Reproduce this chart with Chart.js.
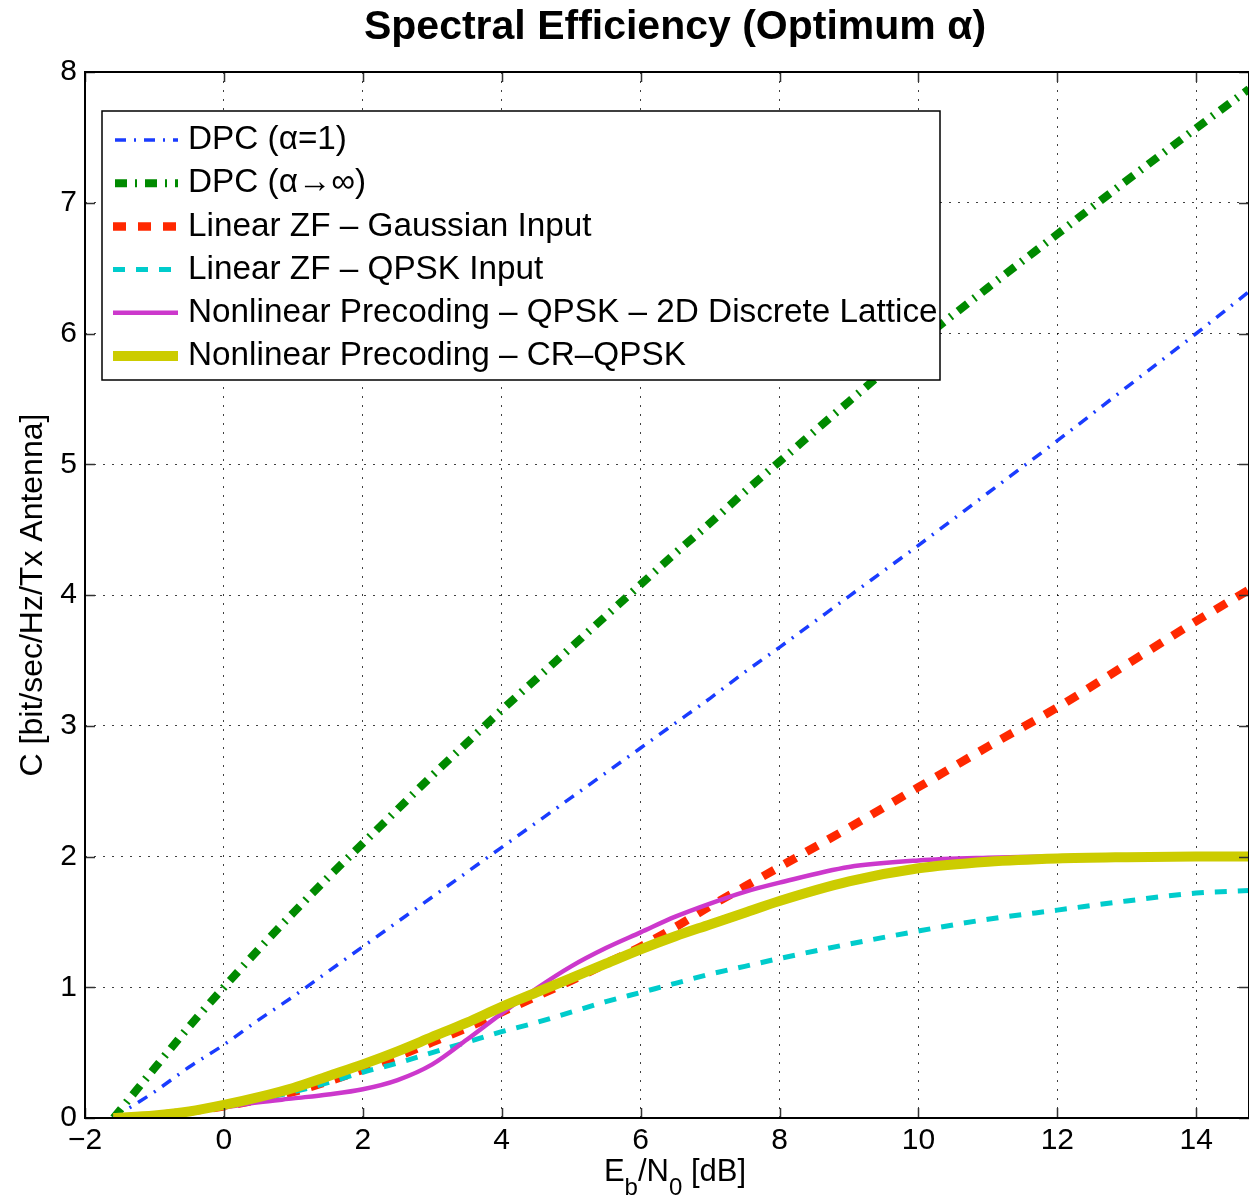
<!DOCTYPE html>
<html>
<head>
<meta charset="utf-8">
<script src="https://cdn.jsdelivr.net/npm/chart.js@4.4.1/dist/chart.umd.min.js"></script>
<style>
html,body{margin:0;padding:0;background:#fff;}
#wrap{width:1249px;height:1201px;position:relative;}
</style>
</head>
<body>
<div id="wrap"><canvas id="c" width="1249" height="1201"></canvas></div>
<script>
// ---- data ----
const ebn0 = [-1.59, -1, -0.5, 0, 0.5, 1, 1.5, 2, 2.5, 3, 3.5, 4, 4.5, 5, 5.5, 6, 6.5, 7, 7.5, 8, 9, 10, 11, 12, 13, 14, 14.76];
const dpcAlpha1 = [0, 0.20, 0.39, 0.56, 0.75, 0.93, 1.12, 1.31, 1.50, 1.69, 1.88, 2.07, 2.26, 2.45, 2.64, 2.83, 3.02, 3.21, 3.41, 3.60, 3.99, 4.38, 4.78, 5.18, 5.59, 6.00, 6.32];
const dpcAlphaInf = [0, 0.38, 0.70, 1.00, 1.29, 1.57, 1.84, 2.10, 2.36, 2.62, 2.87, 3.12, 3.36, 3.60, 3.84, 4.08, 4.32, 4.55, 4.79, 5.02, 5.48, 5.93, 6.35, 6.76, 7.17, 7.57, 7.87];
const zfGaussian = [0, 0.02, 0.05, 0.09, 0.14, 0.20, 0.28, 0.37, 0.47, 0.58, 0.69, 0.81, 0.93, 1.05, 1.18, 1.31, 1.46, 1.62, 1.77, 1.92, 2.22, 2.53, 2.84, 3.14, 3.47, 3.80, 4.04];
const zfQpsk = [0, 0.02, 0.05, 0.09, 0.14, 0.20, 0.27, 0.35, 0.42, 0.50, 0.58, 0.66, 0.73, 0.81, 0.89, 0.96, 1.03, 1.10, 1.16, 1.22, 1.33, 1.43, 1.52, 1.59, 1.66, 1.72, 1.74];
const nlpLattice = [0, 0.015, 0.04, 0.08, 0.12, 0.15, 0.18, 0.22, 0.29, 0.41, 0.60, 0.80, 0.99, 1.16, 1.30, 1.42, 1.54, 1.64, 1.73, 1.80, 1.92, 1.97, 1.99, 2.00, 2.00, 2.00, 2.00];
const nlpCrQpsk = [0, 0.02, 0.05, 0.10, 0.16, 0.23, 0.32, 0.41, 0.51, 0.62, 0.73, 0.85, 0.96, 1.07, 1.18, 1.29, 1.39, 1.48, 1.57, 1.66, 1.81, 1.91, 1.96, 1.985, 1.995, 2.00, 2.00];
const seriesLabels = ['DPC (\u03B1=1)', 'DPC (\u03B1\u2192\u221E)', 'Linear ZF \u2013 Gaussian Input', 'Linear ZF \u2013 QPSK Input', 'Nonlinear Precoding \u2013 QPSK \u2013 2D Discrete Lattice', 'Nonlinear Precoding \u2013 CR\u2013QPSK'];
const xTicks = [-2, 0, 2, 4, 6, 8, 10, 12, 14];
const yTicks = [0, 1, 2, 3, 4, 5, 6, 7, 8];
const titleText = 'Spectral Efficiency (Optimum \u03B1)';
const yTitle = 'C [bit/sec/Hz/Tx Antenna]';

const FONT = '"Liberation Sans", Arial, Helvetica, sans-serif';
Chart.defaults.font.family = FONT;

const styles = [
  {color: '#1a3cff', width: 3.5, dash: [11, 8, 2, 8], legendOffset: 27},
  {color: '#008a00', width: 8, dash: [12, 8, 2, 8], legendOffset: 28},
  {color: '#ff2800', width: 8.5, dash: [13, 12], legendOffset: 0},
  {color: '#00cccc', width: 5, dash: [12, 11], legendOffset: 0},
  {color: '#cc38cc', width: 4.5, dash: [], legendOffset: 0},
  {color: '#cccc00', width: 10, dash: [], legendOffset: 0}
];
const seriesValues = [dpcAlpha1, dpcAlphaInf, zfGaussian, zfQpsk, nlpLattice, nlpCrQpsk];

const datasets = seriesValues.map((vals, i) => ({
  label: seriesLabels[i],
  data: ebn0.map((x, k) => ({x: x, y: vals[k]})),
  borderColor: styles[i].color,
  backgroundColor: styles[i].color,
  borderWidth: styles[i].width,
  borderDash: styles[i].dash,
  borderCapStyle: 'butt',
  fill: false,
  pointRadius: 0,
  cubicInterpolationMode: 'monotone',
  clip: 0,
  order: seriesValues.length - i
}));

const decorPlugin = {
  id: 'decor',
  afterDatasetsDraw(chart) {
    const {ctx, chartArea: a, scales} = chart;
    ctx.save();
    ctx.strokeStyle = '#333';
    ctx.lineWidth = 1.5;
    ctx.beginPath();
    xTicks.forEach(v => {
      const px = Math.round(scales.x.getPixelForValue(v)) + 0.5;
      ctx.moveTo(px, a.bottom); ctx.lineTo(px, a.bottom - 10);
      ctx.moveTo(px, a.top); ctx.lineTo(px, a.top + 10);
    });
    yTicks.forEach(v => {
      const py = Math.round(scales.y.getPixelForValue(v)) + 0.5;
      ctx.moveTo(a.left, py); ctx.lineTo(a.left + 10, py);
      ctx.moveTo(a.right, py); ctx.lineTo(a.right - 10, py);
    });
    ctx.stroke();
    ctx.strokeStyle = '#000';
    ctx.lineWidth = 2;
    ctx.strokeRect(a.left, a.top, a.right - a.left, a.bottom - a.top);
    ctx.restore();
  },
  afterDraw(chart) {
    const {ctx, chartArea: a} = chart;
    ctx.save();
    ctx.fillStyle = '#000';
    ctx.font = 'bold 41px ' + FONT;
    ctx.textAlign = 'center';
    ctx.textBaseline = 'middle';
    ctx.fillText(titleText, 675, 28);
    ctx.save();
    ctx.translate(33, (a.top + a.bottom) / 2);
    ctx.rotate(-Math.PI / 2);
    ctx.font = '32px ' + FONT;
    ctx.textAlign = 'center';
    ctx.textBaseline = 'middle';
    ctx.fillText(yTitle, 0, 0);
    ctx.restore();
    const parts = [
      {t: 'E', s: 31, dy: 0},
      {t: 'b', s: 24, dy: 14},
      {t: '/N', s: 31, dy: 0},
      {t: '0', s: 24, dy: 14},
      {t: ' [dB]', s: 31, dy: 0}
    ];
    let total = 0;
    parts.forEach(p => { ctx.font = p.s + 'px ' + FONT; p.w = ctx.measureText(p.t).width; total += p.w; });
    let xx = 675 - total / 2;
    ctx.textAlign = 'left';
    ctx.textBaseline = 'alphabetic';
    parts.forEach(p => { ctx.font = p.s + 'px ' + FONT; ctx.fillText(p.t, xx, 1181 + p.dy); xx += p.w; });
    const lx = 102, ly = 111, lw = 838, lh = 269;
    ctx.fillStyle = '#fff';
    ctx.fillRect(lx, ly, lw, lh);
    ctx.strokeStyle = '#000';
    ctx.lineWidth = 1.5;
    ctx.strokeRect(lx, ly, lw, lh);
    chart.data.datasets.forEach((ds, i) => {
      const y = 140 + i * 43.2;
      ctx.save();
      ctx.strokeStyle = ds.borderColor;
      ctx.lineWidth = ds.borderWidth;
      ctx.lineCap = 'butt';
      ctx.setLineDash(ds.borderDash);
      ctx.lineDashOffset = styles[i].legendOffset;
      ctx.beginPath();
      ctx.moveTo(113, y); ctx.lineTo(178, y);
      ctx.stroke();
      ctx.restore();
      ctx.fillStyle = '#000';
      ctx.font = '33.3px ' + FONT;
      ctx.textAlign = 'left';
      ctx.textBaseline = 'middle';
      ctx.fillText(ds.label, 188, y);
    });
    ctx.restore();
  }
};

new Chart(document.getElementById('c'), {
  type: 'line',
  data: {datasets: datasets},
  options: {
    responsive: false,
    animation: false,
    devicePixelRatio: 1,
    layout: {padding: {top: 72, left: 0, right: 0, bottom: 0}},
    plugins: {legend: {display: false}, title: {display: false}, tooltip: {enabled: false}},
    scales: {
      x: {
        type: 'linear', min: -2, max: 14.76,
        afterFit(s) { s.height = 83; },
        afterBuildTicks(s) { s.ticks = xTicks.map(v => ({value: v})); },
        ticks: {padding: 5, color: '#000', font: {size: 30}, maxRotation: 0, autoSkip: false,
          callback: v => String(v).replace('-', '\u2212')},
        grid: {drawTicks: false, color: 'rgba(0,0,0,0.75)', lineWidth: 1},
        border: {display: false, dash: [2, 7]}
      },
      y: {
        type: 'linear', min: 0, max: 8,
        afterFit(s) { s.width = 85; },
        afterBuildTicks(s) { s.ticks = yTicks.map(v => ({value: v})); },
        ticks: {padding: 8, color: '#000', font: {size: 30}, autoSkip: false},
        grid: {drawTicks: false, color: 'rgba(0,0,0,0.75)', lineWidth: 1},
        border: {display: false, dash: [2, 7]}
      }
    }
  },
  plugins: [decorPlugin]
});
</script>
</body>
</html>
